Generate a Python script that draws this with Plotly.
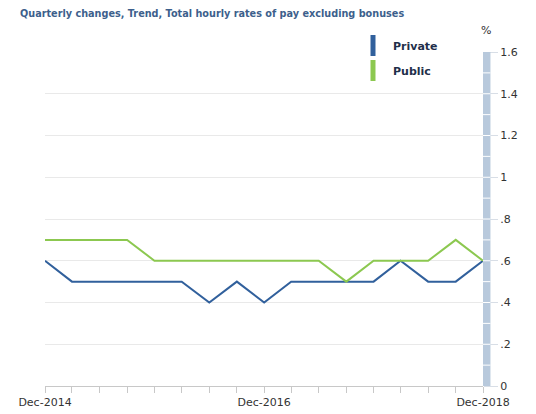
import pandas as pd
import plotly.graph_objects as go

quarters = ["Dec-2014", "Mar-2015", "Jun-2015", "Sep-2015", "Dec-2015",
            "Mar-2016", "Jun-2016", "Sep-2016", "Dec-2016",
            "Mar-2017", "Jun-2017", "Sep-2017", "Dec-2017",
            "Mar-2018", "Jun-2018", "Sep-2018", "Dec-2018"]
private = [0.6, 0.5, 0.5, 0.5, 0.5, 0.5, 0.4, 0.5, 0.4, 0.5, 0.5, 0.5, 0.5, 0.6, 0.5, 0.5, 0.6]
public = [0.7, 0.7, 0.7, 0.7, 0.6, 0.6, 0.6, 0.6, 0.6, 0.6, 0.6, 0.5, 0.6, 0.6, 0.6, 0.7, 0.6]
x_tick_labels = ["Dec-2014", "Dec-2016", "Dec-2018"]
y_tick_vals = [0, 0.2, 0.4, 0.6, 0.8, 1.0, 1.2, 1.4, 1.6]
y_tick_text = ["0", ".2", ".4", ".6", ".8", "1", "1.2", "1.4", "1.6"]

dates = pd.to_datetime(quarters, format="%b-%Y")
tick_dates = pd.to_datetime(x_tick_labels, format="%b-%Y")

C_PRIV = "#31609c"
C_PUB = "#8cc850"
FONT = "Verdana, DejaVu Sans, sans-serif"

fig = go.Figure()
fig.add_trace(go.Scatter(x=dates, y=private, mode="lines", name="Private",
                         line=dict(color=C_PRIV, width=2), showlegend=False))
fig.add_trace(go.Scatter(x=dates, y=public, mode="lines", name="Public",
                         line=dict(color=C_PUB, width=2), showlegend=False))
# legend swatches
fig.add_trace(go.Scatter(x=[None], y=[None], mode="markers", name="Private",
                         legendgroup="a",
                         marker=dict(symbol="line-ns-open", size=15, color=C_PRIV,
                                     line=dict(color=C_PRIV, width=8))))
fig.add_trace(go.Scatter(x=[None], y=[None], mode="markers", name="Public",
                         legendgroup="b",
                         marker=dict(symbol="line-ns-open", size=15, color=C_PUB,
                                     line=dict(color=C_PUB, width=8))))

# right axis strip
shapes = [dict(type="rect", xref="x domain", yref="y", x0=1.0, x1=1.017,
               y0=0, y1=1.6, fillcolor="#b8c9dc", line=dict(width=0), layer="above")]
for i in range(1, 16):
    v = i / 10
    shapes.append(dict(type="line", xref="x domain", yref="y", x0=1.0, x1=1.017,
                       y0=v, y1=v, line=dict(color="white", width=1), layer="above"))

fig.update_layout(
    width=536, height=414,
    margin=dict(l=37, r=61, t=44, b=36, autoexpand=False),
    paper_bgcolor="white", plot_bgcolor="white",
    font=dict(family=FONT, size=11, color="#333333"),
    title=dict(text="<b>Quarterly changes, Trend, Total hourly rates of pay excluding bonuses</b>",
               x=12/536, xref="container", xanchor="left",
               y=1 - 2/414, yref="container", yanchor="top",
               font=dict(family=FONT, size=9.7, color="#3d5f8c")),
    legend=dict(x=(353 - 45) / 438, y=1 + 21 / 334, xanchor="left", yanchor="top",
                font=dict(family=FONT, size=11, color="#1f2f4a", weight="bold"),
                bgcolor="rgba(0,0,0,0)", traceorder="grouped", tracegroupgap=6,
                itemwidth=30),
    shapes=shapes,
    annotations=[dict(text="%", xref="paper", yref="paper", x=1.0, y=1.0,
                      xshift=3, yshift=22, xanchor="center", yanchor="middle",
                      showarrow=False,
                      font=dict(family=FONT, size=11, color="#333333"))],
)
fig.update_xaxes(
    type="date", range=[dates[0], dates[-1]], automargin=False,
    tickvals=tick_dates, ticktext=x_tick_labels,
    ticks="outside", ticklen=6, tickcolor="#c8c8c8",
    minor=dict(dtick="M3", tick0=dates[0], ticks="outside", ticklen=6, tickcolor="#c8c8c8"),
    showline=True, linecolor="#c8c8c8", showgrid=False, zeroline=False,
    tickfont=dict(family=FONT, size=11, color="#333333"),
)
fig.update_yaxes(
    side="right", range=[0, 1.6], tickvals=y_tick_vals, ticktext=y_tick_text,
    automargin=False,
    ticks="outside", ticklen=14, tickcolor="#d8dee6",
    showgrid=True, gridcolor="#e9e9e9", zeroline=False, showline=False,
    tickfont=dict(family=FONT, size=11, color="#333333"),
)
fig.write_html("out.html")
